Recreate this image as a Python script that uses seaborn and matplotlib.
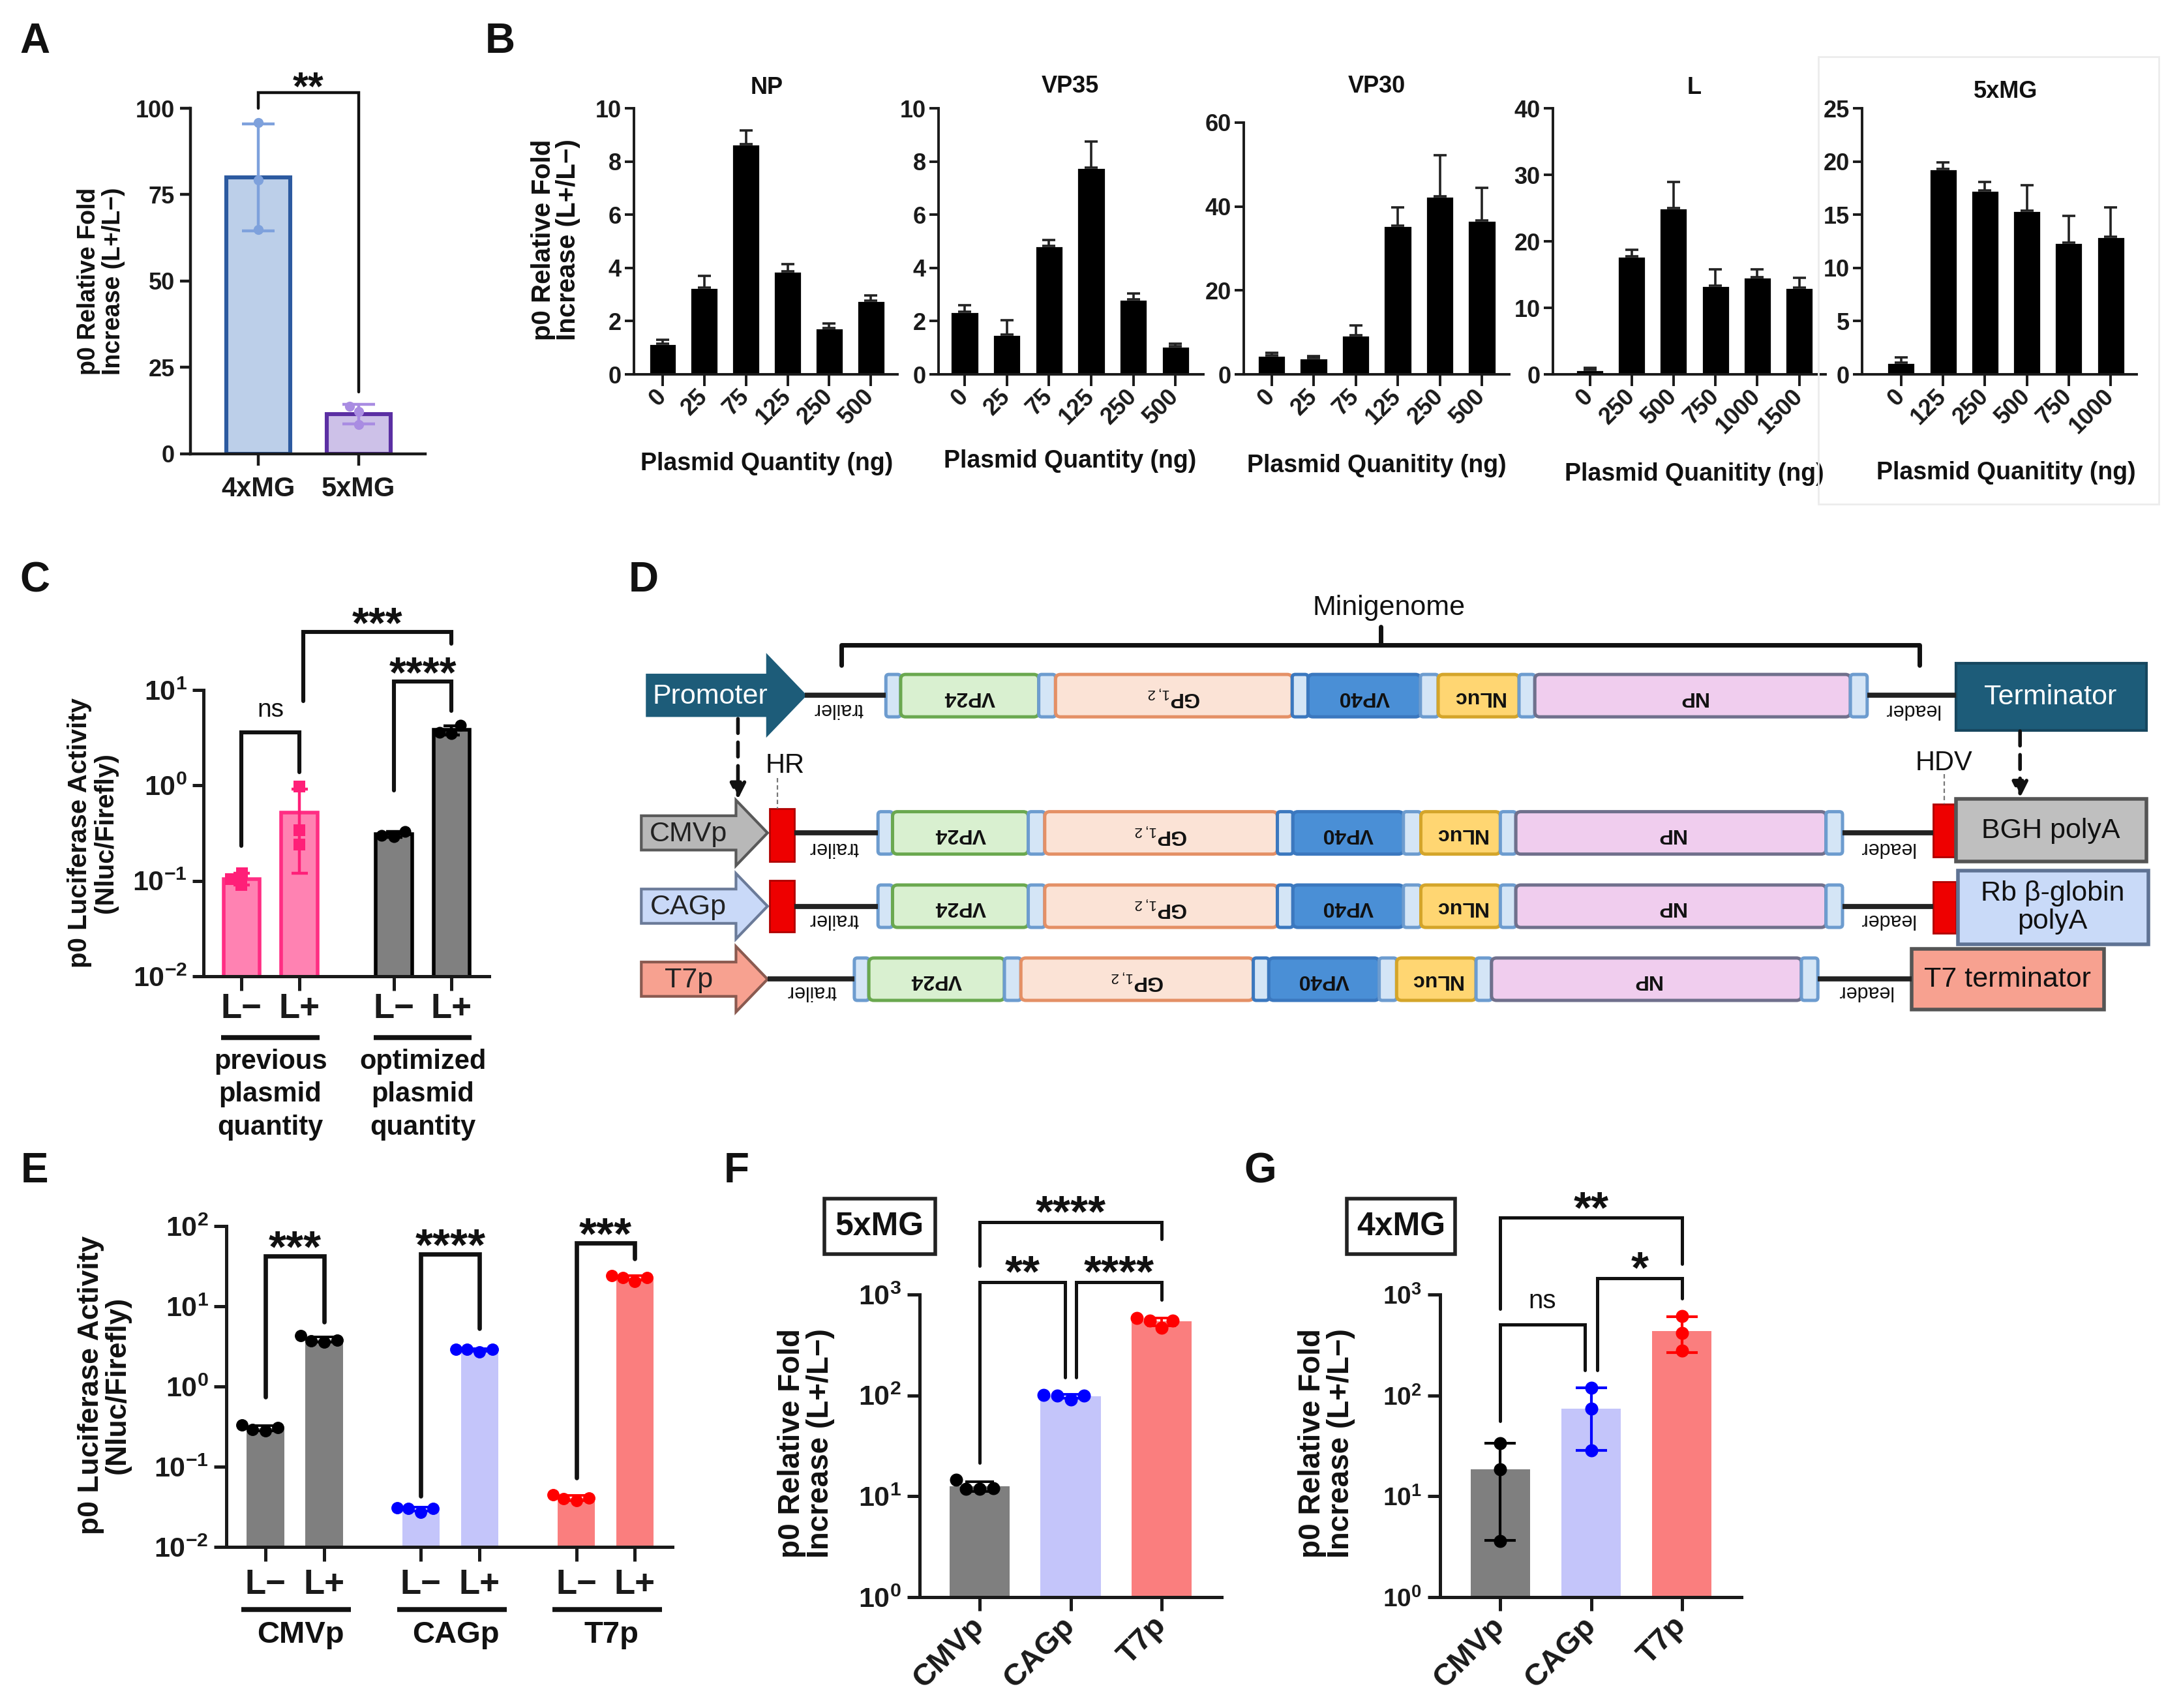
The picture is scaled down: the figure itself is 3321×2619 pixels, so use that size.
import numpy as np
import pandas as pd
import matplotlib
matplotlib.use("Agg")
import matplotlib.pyplot as plt
import seaborn as sns
from matplotlib.patches import Polygon, Rectangle, FancyBboxPatch
from matplotlib.transforms import blended_transform_factory as btf
from matplotlib.ticker import FixedLocator, FuncFormatter, NullLocator

sns.set_style("ticks")
plt.rcParams["font.family"] = ["Liberation Sans", "DejaVu Sans"]
plt.rcParams["mathtext.fontset"] = "custom"
plt.rcParams["mathtext.rm"] = "Liberation Sans"
plt.rcParams["mathtext.it"] = "Liberation Sans:italic"
plt.rcParams["mathtext.bf"] = "Liberation Sans:bold"
plt.rcParams["axes.linewidth"] = 1.6
plt.rcParams["axes.edgecolor"] = "#1a1a1a"
plt.rcParams["xtick.color"] = "#1a1a1a"
plt.rcParams["ytick.color"] = "#1a1a1a"
plt.rcParams["text.color"] = "#111111"

# ======================= DATA =======================
# Panel A
a_groups = ["4xMG", "5xMG"]
a_4xmg = [95.9, 79.3, 64.9]
a_5xmg = [13.8, 12.3, 8.4]

# Panel B
b_titles = ["NP", "VP35", "VP30", "L", "5xMG"]
b_qty = [["0", "25", "75", "125", "250", "500"],
         ["0", "25", "75", "125", "250", "500"],
         ["0", "25", "75", "125", "250", "500"],
         ["0", "250", "500", "750", "1000", "1500"],
         ["0", "125", "250", "500", "750", "1000"]]
b_mean = [[1.16, 3.25, 8.66, 3.875, 1.75, 2.78],
          [2.35, 1.5, 4.84, 7.78, 2.81, 1.06],
          [4.5, 3.9, 9.35, 35.4, 42.4, 36.7],
          [0.65, 17.75, 25.0, 13.35, 14.65, 13.0],
          [1.1, 19.3, 17.25, 15.4, 12.35, 12.9]]
b_err = [[0.13, 0.46, 0.5, 0.275, 0.16, 0.18],
         [0.24, 0.54, 0.2, 0.97, 0.23, 0.1],
         [0.65, 0.46, 2.3, 4.4, 9.9, 7.8],
         [0.35, 1.0, 3.9, 2.4, 1.1, 1.5],
         [0.5, 0.6, 0.85, 2.4, 2.55, 2.8]]
b_ymax = [10, 10, 60, 40, 25]
b_ystep = [2, 2, 20, 10, 5]
b_xlabel = ["Plasmid Quantity (ng)", "Plasmid Quantity (ng)", "Plasmid Quanitity (ng)",
            "Plasmid Quanitity (ng)", "Plasmid Quanitity (ng)"]

# Panel C
c_ticks = ["L\u2212", "L+", "L\u2212", "L+"]
c_groups = [["previous", "plasmid", "quantity"], ["optimized", "plasmid", "quantity"]]
c_prev_lminus = [0.12, 0.09, 0.105]
c_prev_lplus = [0.97, 0.34, 0.24]
c_opt_lminus = [0.33, 0.29, 0.30]
c_opt_lplus = [4.3, 3.6, 3.5]

# Panel E
e_promoters = ["CMVp", "CAGp", "T7p"]
e_lminus = [[0.33, 0.29, 0.28, 0.31], [0.027, 0.030, 0.031, 0.030], [0.038, 0.045, 0.040, 0.041]]
e_lplus = [[4.3, 3.8, 3.7, 3.6], [2.7, 2.9, 2.9, 2.9], [20.5, 24.0, 23.0, 23.0]]

# Panel F (5xMG)
f_promoters = ["CMVp", "CAGp", "T7p"]
f_vals = [[11.8, 14.6, 11.9, 12.0], [91, 101, 99, 99], [468, 585, 552, 552]]

# Panel G (4xMG)
g_promoters = ["CMVp", "CAGp", "T7p"]
g_vals = [[33.4, 18.6, 3.6], [119, 74.3, 28.3], [609, 413, 278]]

# ======================= LAYOUT HELPERS =======================
W, H = 3321, 2619
DPI = 200
PT = 72 / DPI  # px -> pt
fig = plt.figure(figsize=(W / DPI, H / DPI), dpi=DPI)
fig.patch.set_facecolor("white")


def ax_px(x0, y0, x1, y1):
    return fig.add_axes([x0 / W, 1 - y1 / H, (x1 - x0) / W, (y1 - y0) / H])


def ftext(x, y, s, **kw):
    kw.setdefault("ha", "center")
    kw.setdefault("va", "center")
    return fig.text(x / W, 1 - y / H, s, **kw)


def dtext(ax, x, y, s, **kw):
    kw.setdefault("ha", "center")
    kw.setdefault("va", "center")
    return ax.text(x, 1 - y / H, s, transform=btf(ax.transData, fig.transFigure), **kw)


def dline(ax, x1, x2, y, **kw):
    ax.plot([x1, x2], [1 - y / H] * 2, transform=btf(ax.transData, fig.transFigure),
            clip_on=False, solid_capstyle="butt", **kw)


def bracket(ax, x1, x2, yb, yl, yr, label, fs=24, dy=30, lw=2.0, weight="bold"):
    ax.plot([x1, x1, x2, x2], [yl, yb, yb, yr], color="#111111", lw=lw, clip_on=False,
            solid_joinstyle="miter")
    em = fs / PT
    frac = 0.57 if "*" in label else 0.26
    off = (dy - frac * em) * PT
    ax.annotate(label, xy=((x1 + x2) / 2, yb), xytext=(0, off), textcoords="offset points",
                ha="center", va="baseline", fontsize=fs, fontweight=weight,
                annotation_clip=False)


def bar_pts(ax, pos, vals, fill, pcol, width, edge=None, elw=0.0, marker="o", psize=6,
            capsize=6, errlw=1.5, ecol=None):
    vals = np.asarray(vals, float)
    m, s = vals.mean(), vals.std(ddof=1)
    sns.barplot(x=[pos], y=[m], native_scale=True, color=fill, saturation=1, width=width,
                errorbar=None, ax=ax, edgecolor=edge if edge else fill, linewidth=elw, zorder=1)
    ax.errorbar([pos], [m], yerr=[[s], [s]], fmt="none", ecolor=ecol or pcol, elinewidth=errlw,
                capsize=capsize, capthick=errlw, zorder=3)
    sns.swarmplot(x=[pos] * len(vals), y=vals, native_scale=True, color=pcol, marker=marker,
                  size=psize, ax=ax, zorder=4, linewidth=0)


def logfmt(v, pos):
    return r"$\mathbf{10^{%d}}$" % int(round(np.log10(v)))


def style_log(ax, lo, hi, fs):
    ax.set_yscale("log")
    ax.set_ylim(lo, hi)
    ax.yaxis.set_major_locator(FixedLocator([10.0 ** e for e in range(int(np.log10(lo)), int(np.log10(hi)) + 1)]))
    ax.yaxis.set_major_formatter(FuncFormatter(logfmt))
    ax.yaxis.set_minor_locator(NullLocator())
    ax.tick_params(axis="y", labelsize=fs)


def panel_letter(x, y, s):
    ftext(x, y, s, fontsize=23, fontweight="bold")


# ======================= PANEL A =======================
axA = ax_px(292, 166, 652, 696)
a_fill = ["#bccfe9", "#cdc1e8"]
a_edge = ["#2c5aa0", "#5b2fa3"]
a_pt = ["#7ea1dc", "#a98ce2"]
for i, vals in enumerate([a_4xmg, a_5xmg]):
    bar_pts(axA, i, vals, a_fill[i], a_pt[i], 0.64, edge=a_edge[i], elw=2.2, psize=5.5,
            capsize=9, errlw=1.6)
axA.set_xlim(-0.682, 1.669)
axA.set_ylim(0, 100)
axA.set_yticks([0, 25, 50, 75, 100])
axA.set_yticklabels(["0", "25", "50", "75", "100"], fontsize=13, fontweight="bold")
axA.set_xticks([0, 1])
axA.set_xticklabels(a_groups, fontsize=15, fontweight="bold")
axA.tick_params(axis="y", length=5.6, width=1.6, pad=3)
axA.tick_params(axis="x", length=6.4, width=1.6, pad=6)
axA.set_xlabel("")
axA.set_ylabel("")
sns.despine(ax=axA)
bracket(axA, 0, 1, 104.5, 100, 17.9, "**", fs=22, dy=25, lw=1.6)
ftext(155, 431, "p0 Relative Fold\nIncrease (L+/L\u2212)", rotation=90, fontsize=13.5,
      fontweight="bold", linespacing=1.05)
panel_letter(53, 64, "A")

# ======================= PANEL B =======================
b_boxes = [(972, 166, 1376, 574), (1439, 166, 1845, 574), (1907, 188, 2314, 574),
           (2381, 166, 2799, 574), (2855, 166, 3276, 574)]
b_xlims = [(-0.69, 5.64), (-0.62, 5.66), (-0.66, 5.65), (-0.88, 5.63), (-0.93, 5.62)]
b_title_y = [134, 132, 132, 134, 140]
b_xlabel_y = [711, 707, 714, 727, 725]
for k in range(5):
    ax = ax_px(*b_boxes[k])
    dfb = pd.DataFrame({"qty": b_qty[k], "val": b_mean[k]})
    sns.barplot(data=dfb, x="qty", y="val", color="black", saturation=1, width=0.67,
                errorbar=None, ax=ax)
    ax.errorbar(np.arange(6), b_mean[k], yerr=[np.zeros(6), b_err[k]], fmt="none",
                ecolor="#222222", elinewidth=1.3, capsize=3.5, capthick=1.3, zorder=3)
    ax.set_xlim(*b_xlims[k])
    ax.set_ylim(0, b_ymax[k])
    yt = np.arange(0, b_ymax[k] + 0.1, b_ystep[k])
    ax.set_yticks(yt)
    ax.set_yticklabels([f"{v:g}" for v in yt], fontsize=13, fontweight="bold")
    ax.set_xticks(np.arange(6))
    ax.set_xticklabels(b_qty[k], rotation=45, ha="right", va="center", rotation_mode="anchor",
                       fontsize=13, fontweight="bold")
    ax.tick_params(axis="x", length=6.4, width=1.4, pad=4)
    ax.tick_params(axis="y", length=5, width=1.4, pad=2)
    for sp in ["left", "bottom"]:
        ax.spines[sp].set_linewidth(1.4)
    ax.set_xlabel("")
    ax.set_ylabel("")
    sns.despine(ax=ax)
    dtext(ax, 2.5, b_title_y[k], b_titles[k], fontsize=13, fontweight="bold")
    dtext(ax, 2.5, b_xlabel_y[k], b_xlabel[k], fontsize=13.5, fontweight="bold")
ftext(852, 368, "p0 Relative Fold\nIncrease (L+/L\u2212)", rotation=90, fontsize=14.5,
      fontweight="bold", linespacing=1.0)
fig.add_artist(Rectangle((2788 / W, 1 - 773 / H), (3310 - 2788) / W, (773 - 87) / H,
                         transform=fig.transFigure, fill=False, ec="#ececec", lw=1.0))
panel_letter(767, 64, "B")

# ======================= PANEL C =======================
axC = ax_px(312, 1058, 750, 1497)
axC.set_yscale("log")
gapC = 2.64
c_pos = [0, 1, gapC, gapC + 1]
c_sets = [c_prev_lminus, c_prev_lplus, c_opt_lminus, c_opt_lplus]
c_fill = ["#ff82b2", "#ff82b2", "#808080", "#808080"]
c_edge = ["#ff2d83", "#ff2d83", "#000000", "#000000"]
c_ptc = ["#ff1f78", "#ff1f78", "#000000", "#000000"]
c_mark = ["s", "s", "o", "o"]
for i in range(4):
    bar_pts(axC, c_pos[i], c_sets[i], c_fill[i], c_ptc[i], 0.63, edge=c_edge[i], elw=2.0,
            marker=c_mark[i], psize=6.5, capsize=4.5, errlw=1.6)
style_log(axC, 1e-2, 1e1, 15.5)
axC.set_xlim(-0.66, 4.29)
axC.set_xticks(c_pos)
axC.set_xticklabels(c_ticks, fontsize=19, fontweight="bold")
axC.tick_params(axis="x", length=8, width=1.8, pad=1)
axC.tick_params(axis="y", length=6, width=1.8, pad=3)
for sp in ["left", "bottom"]:
    axC.spines[sp].set_linewidth(1.8)
axC.set_xlabel("")
axC.set_ylabel("")
sns.despine(ax=axC)
bracket(axC, 0, 1, 3.59, 0.233, 1.37, "ns", fs=14, dy=34, lw=2.2, weight="normal")
bracket(axC, gapC, gapC + 1, 12.2, 0.88, 6.0, "****", fs=24, dy=30, lw=2.2)
bracket(axC, 1.07, gapC + 1, 40.8, 7.7, 30.4, "***", fs=24, dy=30, lw=2.2)
for gi, start in enumerate([0, gapC]):
    dline(axC, start - 0.35, start + 1.35, 1591, color="#111111", lw=2.7)
    for li, line in enumerate(c_groups[gi]):
        dtext(axC, start + 0.5, [1628, 1678, 1729][li], line, fontsize=15, fontweight="bold")
ftext(142, 1277, "p0 Luciferase Activity\n(Nluc/Firefly)", rotation=90, fontsize=14.5,
      fontweight="bold", linespacing=1.05)
panel_letter(53, 890, "C")

# ======================= PANEL D (schematic) =======================
axD = ax_px(950, 850, 3321, 1600)
axD.set_xlim(0, 1568)
axD.set_ylim(1568, 0)
axD.axis("off")
ASPECT = (2371 / 1568) / (750 / 1568)  # zy units per zx unit at equal pixel size
DK = "#1d5c79"
gene_names = ["", "VP24", "", "GP$_{1,2}$", "", "VP40", "", "NLuc", "", "NP", ""]
gene_widths = [15, 140, 17, 240, 16, 114, 18, 82, 16, 320, 17]
gene_fc = ["#d4e5f6", "#d9f0d0", "#d4e5f6", "#fbe3d6", "#d4e5f6", "#4a8fd6", "#d4e5f6",
           "#ffd672", "#d4e5f6", "#f0cdee", "#d4e5f6"]
gene_ec = ["#6d9ccf", "#6aa84f", "#6d9ccf", "#e49066", "#3b78bf", "#3b78bf", "#6d9ccf",
           "#d4a52a", "#6d9ccf", "#70708c", "#6d9ccf"]


def d_arrow(x0, xb, xt, yc, hb, hh, fc, ec):
    axD.add_patch(Polygon([(x0, yc - hb), (xb, yc - hb), (xb, yc - hh), (xt, yc), (xb, yc + hh),
                           (xb, yc + hb), (x0, yc + hb)], closed=True, fc=fc, ec=ec, lw=1.5,
                          joinstyle="miter"))


def d_box(x0, x1, y0, y1, fc, ec, lw=1.5):
    axD.add_patch(Rectangle((x0, y0), x1 - x0, y1 - y0, fc=fc, ec=ec, lw=lw))


def d_rbox(x0, x1, y0, y1, fc, ec, lw=1.8, r=4):
    axD.add_patch(FancyBboxPatch((x0, y0), x1 - x0, y1 - y0,
                                 boxstyle=f"round,pad=0,rounding_size={r}",
                                 mutation_aspect=ASPECT, fc=fc, ec=ec, lw=lw))


def d_line(x0, x1, y):
    axD.plot([x0, x1], [y, y], color="#222222", lw=2.8, solid_capstyle="butt")


def d_genes(x0, span, yc, hh=68):
    scale = span / sum(gene_widths)
    x = x0
    for name, w, fc, ec in zip(gene_names, gene_widths, gene_fc, gene_ec):
        ww = w * scale
        d_rbox(x, x + ww, yc - hh, yc + hh, fc, ec, lw=1.8, r=3 if not name else 5)
        if name:
            axD.text(x + ww / 2, yc + 4, name, rotation=180, ha="center", va="center",
                     fontsize=11.5, fontweight="bold", color="#111111")
        x += ww


# Row 1 (generic construct)
d_arrow(28, 150, 188, 452, 65, 125, DK, DK)
axD.text(92, 456, "Promoter", color="white", fontsize=15.5, ha="center", va="center")
d_line(188, 270, 452)
d_genes(270, 995, 453)
d_line(1265, 1355, 452)
d_box(1355, 1548, 350, 565, DK, "#17475f")
axD.text(1451, 457, "Terminator", color="white", fontsize=15.5, ha="center", va="center")
axD.text(222, 495, "trailer", rotation=180, fontsize=11, ha="center", va="center")
axD.text(1310, 498, "leader", rotation=180, fontsize=11, ha="center", va="center")
axD.plot([225, 225, 1318, 1318], [355, 290, 290, 355], color="#111111", lw=2.5)
axD.plot([772, 772], [290, 232], color="#111111", lw=2.5)
axD.text(780, 172, "Minigenome", fontsize=15.5, ha="center", va="center")
axD.annotate("", xy=(120, 785), xytext=(120, 527),
             arrowprops=dict(arrowstyle="-|>", ls=(0, (4, 2.5)), lw=2.0, color="#111111",
                             mutation_scale=18, shrinkA=0, shrinkB=0))
axD.annotate("", xy=(1420, 780), xytext=(1420, 567),
             arrowprops=dict(arrowstyle="-|>", ls=(0, (4, 2.5)), lw=2.0, color="#111111",
                             mutation_scale=18, shrinkA=0, shrinkB=0))
axD.text(168, 678, "HR", fontsize=15, ha="center", va="center")
axD.plot([160, 160], [718, 815], color="#777777", lw=0.8, ls=(0, (3, 2)))
axD.text(1343, 668, "HDV", fontsize=15, ha="center", va="center")
axD.plot([1343, 1343], [705, 800], color="#777777", lw=0.8, ls=(0, (3, 2)))

# Row 2 CMVp
d_arrow(22, 118, 150, 893, 55, 105, "#b8b8b8", "#595959")
axD.text(70, 897, "CMVp", fontsize=15.5, ha="center", va="center", color="#222222")
d_box(152, 177, 815, 985, "#ee0000", "#b00000", lw=1.0)
d_line(177, 262, 893)
d_genes(262, 978, 893)
d_line(1240, 1332, 893)
d_box(1332, 1355, 800, 970, "#ee0000", "#b00000", lw=1.0)
d_box(1355, 1548, 785, 985, "#bfbfbf", "#555555", lw=2.0)
axD.text(1451, 887, "BGH polyA", fontsize=15.5, ha="center", va="center")
axD.text(217, 940, "trailer", rotation=180, fontsize=11, ha="center", va="center")
axD.text(1285, 940, "leader", rotation=180, fontsize=11, ha="center", va="center")

# Row 3 CAGp
d_arrow(22, 118, 150, 1128, 55, 105, "#c9d9f8", "#6b7b99")
axD.text(70, 1132, "CAGp", fontsize=15.5, ha="center", va="center", color="#222222")
d_box(152, 177, 1045, 1210, "#ee0000", "#b00000", lw=1.0)
d_line(177, 262, 1128)
d_genes(262, 978, 1128)
d_line(1240, 1332, 1128)
d_box(1332, 1355, 1050, 1215, "#ee0000", "#b00000", lw=1.0)
d_box(1357, 1550, 1015, 1250, "#c9daf8", "#5f7394", lw=2.0)
axD.text(1453, 1132, "Rb \u03b2-globin\npolyA", fontsize=15.5, ha="center", va="center",
         linespacing=1.1)
axD.text(217, 1170, "trailer", rotation=180, fontsize=11, ha="center", va="center")
axD.text(1285, 1170, "leader", rotation=180, fontsize=11, ha="center", va="center")

# Row 4 T7p
d_arrow(22, 118, 150, 1362, 55, 105, "#f7a190", "#8a5a50")
axD.text(70, 1366, "T7p", fontsize=15.5, ha="center", va="center", color="#222222")
d_line(150, 238, 1362)
d_genes(238, 977, 1362)
d_line(1215, 1310, 1362)
d_box(1310, 1505, 1265, 1460, "#f7a190", "#555555", lw=2.0)
axD.text(1407, 1364, "T7 terminator", fontsize=15.5, ha="center", va="center")
axD.text(195, 1400, "trailer", rotation=180, fontsize=11, ha="center", va="center")
axD.text(1262, 1400, "leader", rotation=180, fontsize=11, ha="center", va="center")
panel_letter(987, 890, "D")

# ======================= PANEL E =======================
axE = ax_px(347, 1880, 1031, 2372)
axE.set_yscale("log")
gapE = 2.65
e_fill = ["#7f7f7f", "#c4c5fa", "#fa7e7e"]
e_ptc = ["#000000", "#0000ff", "#ff0000"]
e_pos = []
for i in range(3):
    for j, vals in enumerate([e_lminus[i], e_lplus[i]]):
        p = i * gapE + j
        e_pos.append(p)
        bar_pts(axE, p, vals, e_fill[i], e_ptc[i], 0.64, psize=6.8, capsize=7, errlw=1.4)
style_log(axE, 1e-2, 1e2, 15.5)
axE.set_xlim(-0.67, 6.94)
axE.set_xticks(e_pos)
axE.set_xticklabels(["L\u2212", "L+"] * 3, fontsize=19, fontweight="bold")
axE.tick_params(axis="x", length=8, width=1.8, pad=4)
axE.tick_params(axis="y", length=6.8, width=1.8, pad=3)
for sp in ["left", "bottom"]:
    axE.spines[sp].set_linewidth(1.8)
axE.set_xlabel("")
axE.set_ylabel("")
sns.despine(ax=axE)
bracket(axE, 0, 1, 42.3, 0.736, 6.38, "***", fs=25, dy=31, lw=2.4)
bracket(axE, gapE, gapE + 1, 45, 0.0428, 5.3, "****", fs=25, dy=31, lw=2.4)
bracket(axE, 2 * gapE, 2 * gapE + 1, 61.4, 0.0734, 39.3, "***", fs=25, dy=31, lw=2.4)
for i in range(3):
    dline(axE, i * gapE - 0.41, i * gapE + 1.46, 2468, color="#111111", lw=2.7)
    dtext(axE, i * gapE + 0.6, 2507, e_promoters[i], fontsize=17, fontweight="bold")
ftext(160, 2124, "p0 Luciferase Activity\n(Nluc/Firefly)", rotation=90, fontsize=16,
      fontweight="bold", linespacing=1.0)
panel_letter(53, 1796, "E")

# ======================= PANEL F =======================
axF = ax_px(1410, 1985, 1873, 2449)
axF.set_yscale("log")
fg_fill = ["#7f7f7f", "#c4c5fa", "#fa7e7e"]
fg_ptc = ["#000000", "#0000ff", "#ff0000"]
for i, vals in enumerate(f_vals):
    bar_pts(axF, i, vals, fg_fill[i], fg_ptc[i], 0.66, psize=7.2, capsize=8, errlw=1.4)
style_log(axF, 1, 1e3, 15.5)
axF.set_xlim(-0.66, 2.66)
axF.set_xticks([0, 1, 2])
axF.set_xticklabels(f_promoters, rotation=45, ha="right", va="center", rotation_mode="anchor",
                    fontsize=17, fontweight="bold")
axF.tick_params(axis="x", length=7.5, width=1.8, pad=6)
axF.tick_params(axis="y", length=7, width=1.8, pad=3)
for sp in ["left", "bottom"]:
    axF.spines[sp].set_linewidth(1.8)
axF.set_xlabel("")
axF.set_ylabel("")
sns.despine(ax=axF)
bracket(axF, 0, 0.94, 1334, 21.5, 150, "**", fs=25, dy=33, lw=1.8)
bracket(axF, 1.06, 2, 1334, 150, 884, "****", fs=25, dy=33, lw=1.8)
bracket(axF, 0, 2, 5210, 1936, 3530, "****", fs=25, dy=33, lw=1.8)
fig.add_artist(Rectangle((1264 / W, 1 - 1923 / H), (1434 - 1264) / W, (1923 - 1838) / H,
                         transform=fig.transFigure, fill=False, ec="#222222", lw=2.0))
ftext(1349, 1881, "5xMG", fontsize=18, fontweight="bold")
ftext(1236, 2213, "p0 Relative Fold\nIncrease (L+/L\u2212)", rotation=90, fontsize=16.5,
      fontweight="bold", linespacing=1.0)
panel_letter(1129, 1796, "F")

# ======================= PANEL G =======================
axG = ax_px(2208, 1985, 2670, 2449)
axG.set_yscale("log")
for i, vals in enumerate(g_vals):
    bar_pts(axG, i, vals, fg_fill[i], fg_ptc[i], 0.65, psize=7.2, capsize=8.5, errlw=1.5)
style_log(axG, 1, 1e3, 14)
axG.set_xlim(-0.665, 2.657)
axG.set_xticks([0, 1, 2])
axG.set_xticklabels(g_promoters, rotation=45, ha="right", va="center", rotation_mode="anchor",
                    fontsize=17, fontweight="bold")
axG.tick_params(axis="x", length=7.5, width=1.8, pad=6)
axG.tick_params(axis="y", length=7, width=1.8, pad=3)
for sp in ["left", "bottom"]:
    axG.spines[sp].set_linewidth(1.8)
axG.set_xlabel("")
axG.set_ylabel("")
sns.despine(ax=axG)
bracket(axG, 0, 0.93, 504, 55.7, 177, "ns", fs=14.5, dy=35, lw=1.8, weight="normal")
bracket(axG, 1.07, 2, 1449, 177, 920, "*", fs=25, dy=33, lw=1.8)
bracket(axG, 0, 2, 5753, 719, 2018, "**", fs=25, dy=33, lw=1.8)
fig.add_artist(Rectangle((2065 / W, 1 - 1923 / H), (2231 - 2065) / W, (1923 - 1838) / H,
                         transform=fig.transFigure, fill=False, ec="#222222", lw=2.0))
ftext(2148, 1881, "4xMG", fontsize=18, fontweight="bold")
ftext(2034, 2213, "p0 Relative Fold\nIncrease (L+/L\u2212)", rotation=90, fontsize=16.5,
      fontweight="bold", linespacing=1.0)
panel_letter(1932, 1796, "G")

fig.savefig("out.png", dpi=DPI, facecolor="white")
